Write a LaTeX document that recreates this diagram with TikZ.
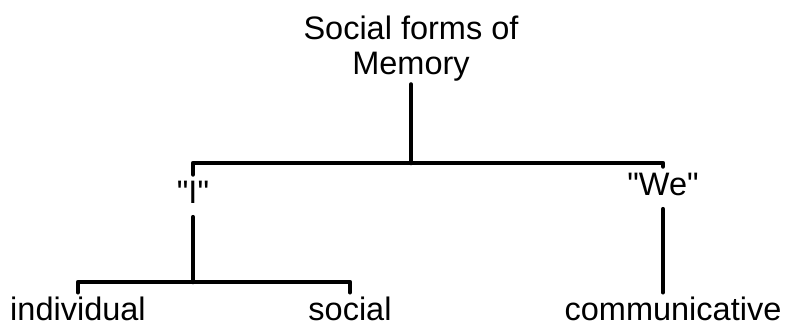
\documentclass[tikz,border=0pt]{standalone}
\usepackage{fontspec}
\setmainfont{Liberation Sans}[Ligatures=TeXOff]
\usepackage{tikz}
\usetikzlibrary{positioning}

\tikzset{
  lbl/.style={font=\fontsize{32.5}{35}\selectfont, inner sep=7pt},
  mid/.style={lbl, text depth=6pt},
  leaf/.style={lbl, inner sep=5pt, anchor=base},
  branch/.style={line width=4.6pt, line cap=round, line join=round},
}

\begin{document}
\begin{tikzpicture}[x=1pt, y=1pt]
    \useasboundingbox (0,0) rectangle (785,328);

    % labels
    \node[lbl, inner sep=3pt, align=center, anchor=south] (mem) at (411, 243.5) {Social forms of\\Memory};
    \node[mid, anchor=base] (iq) at (193, 124) {"I"};
    \node[mid, anchor=base] (we) at (663, 132) {"We"};
    \node[leaf] (ind) at (78, 7) {individual};
    \node[leaf] (soc) at (350, 7) {social};
    \node[leaf] (com) at (673, 7) {communicative};

    \coordinate (hub) at (411, 165);
    \coordinate (fork) at (193, 46);

    % tree lines
    \draw[branch] (mem.south) -- (hub);
    \draw[branch] (iq.north) |- (hub) -| (we.north);
    \draw[branch] (iq.south) -- (fork);
    \draw[branch] (ind.north) |- (fork) -| (soc.north);
    \draw[branch] (we.south) -- (we.south |- com.north);
\end{tikzpicture}
\end{document}
